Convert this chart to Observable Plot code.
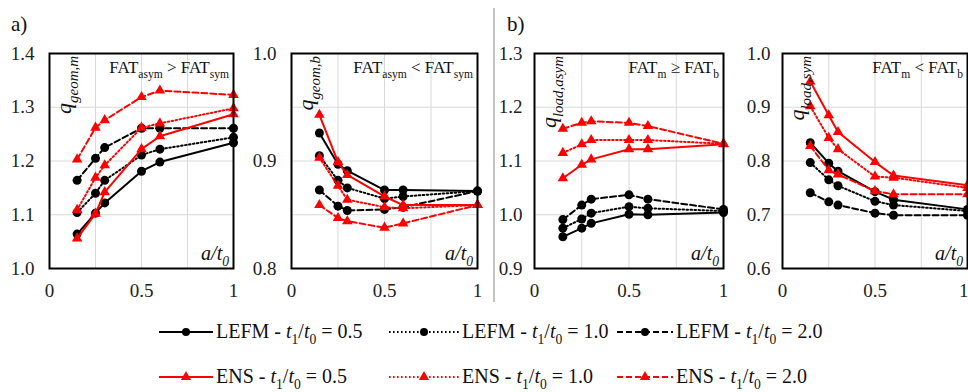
<!DOCTYPE html>
<html><head><meta charset="utf-8">
<script src="https://cdn.jsdelivr.net/npm/d3@7"></script>
<script src="https://cdn.jsdelivr.net/npm/@observablehq/plot@0.6"></script>
<style>
html,body{margin:0;background:#fff;}
#root{position:relative;width:968px;height:392px;overflow:hidden;font-family:"Liberation Serif","Times New Roman",serif;}
#root svg{position:absolute;overflow:visible;}
#root text{font-family:"Liberation Serif","Times New Roman",serif;}
</style></head><body><div id="root"></div>
<script>
// x positions (a/t0)
const xVals = [0.15, 0.25, 0.3, 0.5, 0.6, 1.0];
// series: LEFM t1/t0 = 0.5, 1.0, 2.0 ; ENS t1/t0 = 0.5, 1.0, 2.0
const seriesMethod = ["LEFM", "LEFM", "LEFM", "ENS", "ENS", "ENS"];
const seriesRatio = ["0.5", "1.0", "2.0", "0.5", "1.0", "2.0"];

const qGeomM = [
  [1.064, 1.103, 1.122, 1.181, 1.198, 1.234],
  [1.104, 1.140, 1.164, 1.211, 1.222, 1.244],
  [1.164, 1.205, 1.225, 1.261, 1.261, 1.261],
  [1.056, 1.102, 1.142, 1.222, 1.246, 1.287],
  [1.109, 1.169, 1.192, 1.262, 1.270, 1.298],
  [1.203, 1.262, 1.276, 1.319, 1.331, 1.323]
];
const qGeomB = [
  [0.926, 0.897, 0.891, 0.873, 0.873, 0.872],
  [0.905, 0.882, 0.875, 0.865, 0.867, 0.872],
  [0.873, 0.858, 0.854, 0.855, 0.857, 0.872],
  [0.943, 0.899, 0.887, 0.867, 0.859, 0.859],
  [0.903, 0.877, 0.864, 0.857, 0.856, 0.859],
  [0.859, 0.847, 0.844, 0.838, 0.842, 0.859]
];
const qLoadAsym = [
  [0.959, 0.975, 0.984, 1.001, 1.000, 1.004],
  [0.975, 0.992, 1.003, 1.015, 1.012, 1.007],
  [0.991, 1.018, 1.029, 1.037, 1.029, 1.010],
  [1.068, 1.093, 1.103, 1.122, 1.122, 1.131],
  [1.115, 1.131, 1.139, 1.139, 1.139, 1.132],
  [1.160, 1.171, 1.174, 1.171, 1.165, 1.132]
];
const qLoadSym = [
  [0.834, 0.796, 0.781, 0.743, 0.728, 0.710],
  [0.797, 0.765, 0.754, 0.725, 0.718, 0.707],
  [0.741, 0.724, 0.718, 0.703, 0.699, 0.699],
  [0.948, 0.885, 0.854, 0.798, 0.773, 0.755],
  [0.902, 0.843, 0.822, 0.771, 0.769, 0.750],
  [0.828, 0.783, 0.775, 0.744, 0.738, 0.738]
];

const xTicks = [0, 0.5, 1];
const xGrid = [0.25, 0.5, 0.75];

const colors = ["#000", "#000", "#000", "#ff0000", "#ff0000", "#ff0000"];
const dashes = [null, "1.6,2.4", "6,3", null, "1.6,2.4", "6,3"];
const symbols = ["circle", "circle", "circle", "triangle", "triangle", "triangle"];

const root = d3.select("#root");

function rich(t, parts, size) {
  let shift = 0;
  parts.forEach(([s, k]) => {
    const ts = t.append("tspan").text(s);
    const sub = k === "s" || k === "is";
    const want = sub ? size * 0.3 : 0;
    if (want !== shift) { ts.attr("dy", want - shift); shift = want; }
    if (sub) ts.attr("font-size", size * 0.68);
    if (k === "i" || k === "is") ts.attr("font-style", "italic");
  });
}

const ML = 45, MR = 12, MT = 53, MB = 32, FH = 215;

function makePanel(cfg) {
  const rows = [];
  cfg.values.forEach((vals, s) => vals.forEach((v, i) => rows.push({x: xVals[i], y: v, s})));
  const marks = [
    Plot.gridX(xGrid, {stroke: "#d9d9d9", strokeOpacity: 1, strokeWidth: 1}),
    Plot.gridY(cfg.grid, {stroke: "#d9d9d9", strokeOpacity: 1, strokeWidth: 1})
  ];
  [0, 1, 2, 3, 4, 5].forEach(s => {
    const d = rows.filter(r => r.s === s);
    marks.push(Plot.line(d, {x: "x", y: "y", stroke: colors[s], strokeWidth: 2, strokeDasharray: dashes[s]}));
    marks.push(Plot.dot(d, {x: "x", y: "y", fill: colors[s], symbol: symbols[s], r: s < 3 ? 4.5 : 3.9}));
  });
  marks.push(Plot.frame({stroke: "#000", strokeWidth: 2}));
  if (cfg.lastEnd) {
    marks.push(Plot.axisX({ticks: xTicks.slice(0, 2), tickSize: 0, tickPadding: 15, tickFormat: d => String(d)}));
    marks.push(Plot.axisX({ticks: xTicks.slice(2), tickSize: 0, tickPadding: 15, textAnchor: "end", dx: 1, tickFormat: d => String(d)}));
  } else {
    marks.push(Plot.axisX({ticks: xTicks, tickSize: 0, tickPadding: 15, tickFormat: d => String(d)}));
  }
  marks.push(Plot.axisY({ticks: cfg.ticks, tickSize: 0, tickPadding: cfg.pad, tickFormat: d3.format(".1f")}));
  const W = ML + cfg.fw + MR;
  const svg = Plot.plot({
    width: W, height: MT + FH + MB,
    marginLeft: ML, marginRight: MR, marginTop: MT, marginBottom: MB,
    x: {domain: [0, 1], label: null},
    y: {domain: cfg.domain, label: null},
    style: {fontFamily: '"Liberation Serif", "Times New Roman", serif', fontSize: "19px", color: "#222", background: "transparent", overflow: "visible"},
    marks
  });
  const s = d3.select(svg).style("left", (cfg.fx - ML) + "px").style("top", "0px");
  const fr = ML + cfg.fw;
  // title
  const tt = s.append("text").attr("x", fr - 4).attr("y", MT + 20).attr("text-anchor", "end")
    .attr("font-size", 17).attr("fill", "#111");
  rich(tt, cfg.title, 17);
  // y label
  const yl = s.append("text").attr("transform", `translate(${ML + 22},${MT + 3}) rotate(-90)`)
    .attr("text-anchor", "end").attr("font-size", 22).attr("fill", "#111");
  rich(yl, cfg.ylab, 22);
  // x label
  const xl = s.append("text").attr("x", fr - 4).attr("y", MT + FH - 8).attr("text-anchor", "end")
    .attr("font-size", 20).attr("fill", "#111");
  rich(xl, [["a/t", "i"], ["0", "is"]], 20);
  root.node().appendChild(svg);
}

makePanel({fx: 49, fw: 184, values: qGeomM, domain: [1.0, 1.4], ticks: [1.0, 1.1, 1.2, 1.3, 1.4], grid: [1.1, 1.2, 1.3], pad: 15,
  title: [["FAT"], ["asym", "s"], [" > FAT"], ["sym", "s"]], ylab: [["q", "i"], ["geom,m", "is"]]});
makePanel({fx: 291, fw: 186, values: qGeomB, domain: [0.8, 1.0], ticks: [0.8, 0.9, 1.0], grid: [0.85, 0.9, 0.95], pad: 15,
  title: [["FAT"], ["asym", "s"], [" < FAT"], ["sym", "s"]], ylab: [["q", "i"], ["geom,b", "is"]]});
makePanel({fx: 534, fw: 189, values: qLoadAsym, domain: [0.9, 1.3], ticks: [0.9, 1.0, 1.1, 1.2, 1.3], grid: [1.0, 1.1, 1.2], pad: 12,
  title: [["FAT"], ["m", "s"], [" \u2265 FAT"], ["b", "s"]], ylab: [["q", "i"], ["load,asym", "is"]]});
makePanel({fx: 782, fw: 185, values: qLoadSym, domain: [0.6, 1.0], ticks: [0.6, 0.7, 0.8, 0.9, 1.0], grid: [0.7, 0.8, 0.9], pad: 12, lastEnd: true,
  title: [["FAT"], ["m", "s"], [" < FAT"], ["b", "s"]], ylab: [["q", "i"], ["load,sym", "is"]]});

// overlay: panel labels, divider, legend
const ov = root.append("svg").attr("width", 968).attr("height", 392).style("left", "0px").style("top", "0px")
  .style("pointer-events", "none");
ov.append("text").attr("x", 11).attr("y", 31).attr("font-size", 21).attr("fill", "#111").text("a)");
ov.append("text").attr("x", 507).attr("y", 31).attr("font-size", 21).attr("fill", "#111").text("b)");
ov.append("line").attr("x1", 494).attr("x2", 494).attr("y1", 8).attr("y2", 302).attr("stroke", "#888").attr("stroke-width", 1);

const legX = [159, 389, 617];
const legLen = [54, 70, 56];
const legY = [332, 377];
for (let s = 0; s < 6; s++) {
  const row = s < 3 ? 0 : 1, col = s % 3;
  const x0 = legX[col], y = legY[row];
  ov.append("line").attr("x1", x0).attr("x2", x0 + legLen[col]).attr("y1", y).attr("y2", y)
    .attr("stroke", colors[s]).attr("stroke-width", 2).attr("stroke-dasharray", dashes[s]);
  const cx = x0 + legLen[col] / 2;
  if (s < 3) ov.append("circle").attr("cx", cx).attr("cy", y).attr("r", 4).attr("fill", colors[s]);
  else ov.append("path").attr("d", d3.symbol(d3.symbolTriangle, 3.8 * 3.8 * Math.PI)()).attr("transform", `translate(${cx},${y})`).attr("fill", colors[s]);
  const t = ov.append("text").attr("x", x0 + legLen[col] + 3).attr("y", y + 6).attr("font-size", 20).attr("fill", "#111");
  rich(t, [[seriesMethod[s] + " - "], ["t", "i"], ["1", "s"], ["/"], ["t", "i"], ["0", "s"], [" = " + seriesRatio[s]]], 20);
}
</script></body></html>
